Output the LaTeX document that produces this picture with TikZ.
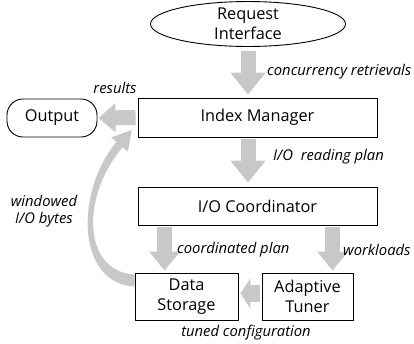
\documentclass[tikz,border=0pt]{standalone}
\usepackage{fontspec}
\setmainfont{Open Sans}
\usetikzlibrary{arrows.meta,calc,shapes.geometric}
\definecolor{arr}{RGB}{200,200,200}
\begin{document}
\begin{tikzpicture}[x=1pt,y=-1pt,
  txt/.style={font=\fontsize{16.3}{20}\selectfont, align=center, inner sep=0pt},
  box/.style={txt, draw=black, line width=0.9pt, rectangle},
  pill/.style={txt, draw=black, line width=0.9pt, rectangle, rounded corners=16pt},
  ell/.style={txt, draw=black, line width=0.9pt, ellipse},
  lab/.style={font=\fontsize{14.8}{17.5}\selectfont\itshape, inner sep=0pt, align=center},
  blk/.style={draw=arr, line width=15pt, -{Triangle[width=34pt,length=22pt]}},
  blkb/.style={draw=arr, line width=15pt, -{Triangle[width=30pt,length=19pt]}},
  blks/.style={draw=arr, line width=17pt, -{Triangle[width=30pt,length=10pt]}}]
\useasboundingbox (0,0) rectangle (414,343);

\node[ell, minimum width=195pt, minimum height=44pt] (ri) at (248,24) {Request\\Interface};
\node[box, minimum width=239pt, minimum height=39pt] (im) at (257.5,117.5) {Index Manager};
\node[pill, minimum width=90pt, minimum height=38pt] (out) at (52,118) {Output};
\node[box, minimum width=239pt, minimum height=38pt] (io) at (257.5,206) {I/O Coordinator};
\node[box, minimum width=103pt, minimum height=47pt] (ds) at (186.5,296.5) {Data\\Storage};
\node[box, minimum width=91pt, minimum height=47pt] (at) at (307.5,296.5) {Adaptive\\Tuner};

\draw[blk] ($(ri.south)+(0,4)$) -- ($(ri.south |- im.north)+(0,-3)$);
\draw[blk] ($(ri.south |- im.south)+(0,2)$) -- ($(ri.south |- io.north)+(0,-4)$);
\draw[draw=arr, line width=15pt, -{Triangle[width=28pt,length=17pt]}] ($(im.west)+(-2,0)$) -- ($(out.east)+(1,0)$);
\draw[blkb] ($(io.south -| ds.west)+(30,2)$) -- ($(ds.north west)+(30,-2)$);
\draw[blkb] ($(io.south -| at.west)+(71,2)$) -- ($(at.north west)+(71,-2)$);
\draw[blks] ($(at.west)+(-2,-3)$) -- ($(ds.east)+(2,-3)$);

\begin{scope}[shift={(ds.north west)}]
\fill[arr] (0,14) .. controls (-58,11) and (-60,-80) .. (-18.1,-130.6)
  -- (-23.4,-135.1) -- (-2.8,-142.6) -- (-6.6,-120.9) -- (-11.9,-125.4)
  .. controls (-54,-76) and (-52,-1) .. (0,2) -- cycle;
\end{scope}

\node[lab, anchor=west] (l1) at (267,72) {concurrency retrievals};
\node[lab] (l2) at (115,88) {results};
\node[lab, anchor=west] (l3) at (273,157) {I/O\ \ reading plan};
\node[lab, anchor=west] (l4) at (177,250) {coordinated plan};
\node[lab, anchor=west] (l5) at (343,250) {workloads};
\node[lab] (l6) at (246,333) {tuned configuration};
\node[lab] (l7) at (44,211) {windowed\\I/O bytes};
\end{tikzpicture}
\end{document}
